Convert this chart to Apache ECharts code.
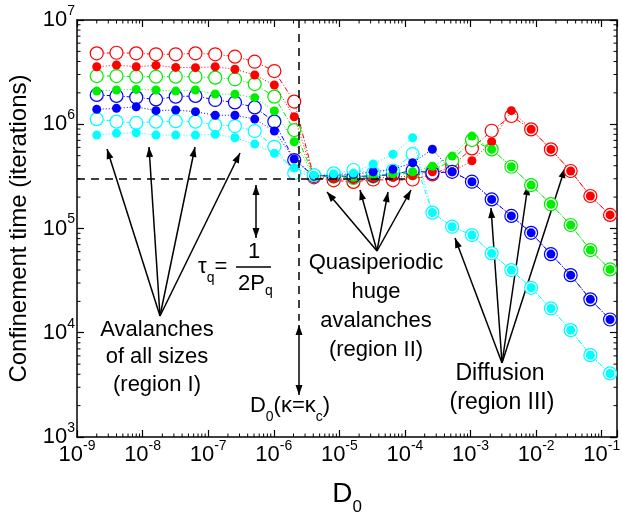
<!DOCTYPE html>
<html>
<head>
<meta charset="utf-8">
<script src="https://cdn.jsdelivr.net/npm/echarts@6/dist/echarts.min.js"></script>
<style>
  html, body { margin: 0; padding: 0; background: #fff; }
  #chart { width: 622px; height: 519px; }
</style>
</head>
<body>
<div id="chart"></div>
<script>
const FONT = '"Liberation Sans", Arial, sans-serif';

// D0 values (x), same for every curve
const d0 = [2.0e-9, 4.0e-9, 8.0e-9, 1.6e-8, 3.2e-8, 6.4e-8, 1.28e-7, 2.56e-7, 5.12e-7,
  1.02e-6, 2.05e-6, 4.10e-6, 8.19e-6, 1.64e-5, 3.28e-5, 6.55e-5, 1.31e-4, 2.62e-4,
  5.24e-4, 1.05e-3, 2.10e-3, 4.19e-3, 8.39e-3, 1.68e-2, 3.36e-2, 6.71e-2, 1.34e-1];

// confinement time (iterations)
const redOpen = [4.79e6, 4.85e6, 4.79e6, 4.69e6, 4.69e6, 4.79e6, 4.69e6, 4.45e6, 3.98e6, 3.24e6, 1.65e6,
  3.10e5, 2.90e5, 2.80e5, 2.95e5, 2.90e5, 2.95e5, 3.30e5, 3.97e5, 5.87e5, 8.66e5, 1.20e6,
  8.93e5, 5.74e5, 3.56e5, 2.05e5, 1.35e5];
const redFilled = [3.56e6, 3.70e6, 3.56e6, 3.67e6, 3.51e6, 3.49e6, 3.56e6, 3.37e6, 2.97e6, 2.38e6, 1.18e6,
  3.15e5, 3.00e5, 2.95e5, 3.05e5, 3.10e5, 3.20e5, 3.50e5, 3.50e5, 4.46e5, 6.79e5, 1.35e6,
  8.93e5, 5.74e5, 3.56e5, 2.05e5, 1.35e5];
const greenOpen = [2.90e6, 2.90e6, 2.86e6, 2.86e6, 2.86e6, 2.86e6, 2.80e6, 2.70e6, 2.43e6, 1.84e6, 8.79e5,
  3.20e5, 3.15e5, 3.05e5, 3.15e5, 3.30e5, 3.40e5, 3.60e5, 4.50e5, 7.05e5, 5.74e5, 3.91e5,
  2.61e5, 1.71e5, 1.08e5, 6.21e4, 4.05e4];
const greenFilled = [2.08e6, 2.13e6, 2.16e6, 2.13e6, 2.08e6, 2.13e6, 1.95e6, 1.94e6, 1.80e6, 1.34e6, 6.79e5,
  3.20e5, 3.20e5, 3.10e5, 3.25e5, 3.35e5, 3.50e5, 3.95e5, 4.95e5, 7.70e5, 5.74e5, 3.91e5,
  2.61e5, 1.71e5, 1.08e5, 6.21e4, 4.05e4];
const blueOpen = [1.91e6, 1.87e6, 1.81e6, 1.73e6, 1.84e6, 1.87e6, 1.71e6, 1.62e6, 1.45e6, 1.06e6, 4.53e5,
  3.20e5, 3.20e5, 3.15e5, 3.20e5, 3.30e5, 3.60e5, 3.40e5, 3.50e5, 2.81e5, 1.90e5, 1.32e5,
  9.09e4, 5.68e4, 3.57e4, 2.09e4, 1.34e4];
const blueFilled = [1.39e6, 1.42e6, 1.47e6, 1.35e6, 1.37e6, 1.32e6, 1.22e6, 1.22e6, 1.12e6, 8.61e5, 4.64e5,
  3.20e5, 3.25e5, 3.30e5, 3.50e5, 3.70e5, 4.27e5, 5.75e5, 3.50e5, 2.81e5, 1.90e5, 1.32e5,
  9.09e4, 5.68e4, 3.57e4, 2.09e4, 1.34e4];
const cyanOpen = [1.12e6, 1.06e6, 1.03e6, 1.06e6, 1.07e6, 1.06e6, 9.82e5, 9.61e5, 8.61e5, 6.08e5, 3.40e5,
  3.25e5, 3.38e5, 3.64e5, 3.40e5, 3.60e5, 5.18e5, 1.42e5, 1.04e5, 8.65e4, 5.77e4, 3.99e4,
  2.70e4, 1.71e4, 1.06e4, 6.10e3, 4.07e3];
const cyanFilled = [7.87e5, 8.18e5, 8.29e5, 7.87e5, 7.87e5, 7.87e5, 8.00e5, 7.42e5, 6.45e5, 5.26e5, 3.80e5,
  3.25e5, 3.35e5, 3.40e5, 4.16e5, 5.15e5, 7.43e5, 1.42e5, 1.04e5, 8.65e4, 5.77e4, 3.99e4,
  2.70e4, 1.71e4, 1.06e4, 6.10e3, 4.07e3];

// guide lines
const tauQ = 3.03e5;
const d0Critical = 2.43e-6;

// axis ranges and labelled decades
const X_MIN = 1e-9, X_MAX = 0.171;
const Y_MIN = 1e3, Y_MAX = 1e7;
const xExponents = [-9, -8, -7, -6, -5, -4, -3, -2, -1];
const yExponents = [3, 4, 5, 6, 7];

// log minor ticks at 2..9 x 10^n
function minorTicks(lo, hi) {
  const out = [];
  for (let e = Math.floor(Math.log10(lo)); e <= Math.ceil(Math.log10(hi)); e++) {
    for (let m = 2; m <= 9; m++) {
      const v = m * Math.pow(10, e);
      if (v > lo && v < hi) out.push(v);
    }
  }
  return out;
}
const xMinor = minorTicks(X_MIN, X_MAX);
const yMinor = minorTicks(Y_MIN, Y_MAX);

function powLabel(exps) {
  return function (v) {
    const e = Math.log10(v), r = Math.round(e);
    if (Math.abs(e - r) > 1e-6 || exps.indexOf(r) < 0) return '';
    return '{b|10}{s|' + r + '}';
  };
}
const powRich = {
  b: { fontSize: 22, fontFamily: FONT, color: '#000' },
  s: { fontSize: 14, fontFamily: FONT, color: '#000', verticalAlign: 'top', padding: [0, 0, 18, 0] }
};

function curve(name, ys, color, open) {
  return {
    name: name,
    type: 'line',
    xAxisIndex: 0, yAxisIndex: 0,
    data: d0.map((x, i) => [x, ys[i]]),
    symbol: 'circle',
    symbolSize: open ? 13 : 9,
    z: open ? 3 : 4,
    silent: true,
    lineStyle: { color: color, width: 1, type: open ? [5, 2, 1, 2] : [1, 2] },
    itemStyle: open ? { color: '#fff', borderColor: color, borderWidth: 1.2 } : { color: color },
    emphasis: { disabled: true }
  };
}

function arrow(x1, y1, x2, y2, both) {
  const head = (hx, hy, fx, fy) => {
    const dx = hx - fx, dy = hy - fy, len = Math.sqrt(dx * dx + dy * dy);
    const ux = dx / len, uy = dy / len, L = 10, W = 3.5;
    const bx = hx - ux * L, by = hy - uy * L;
    return { type: 'polygon', silent: true, shape: { points: [[hx, hy], [bx - uy * W, by + ux * W], [bx + uy * W, by - ux * W]] }, style: { fill: '#000' } };
  };
  const els = [{ type: 'line', silent: true, shape: { x1: x1, y1: y1, x2: x2, y2: y2 }, style: { stroke: '#000', lineWidth: 1.5 } }];
  els.push(head(x2, y2, x1, y1));
  if (both) els.push(head(x1, y1, x2, y2));
  return els;
}

function text(str, x, y, size, align, rich) {
  return {
    type: 'text', x: x, y: y, silent: true,
    style: { text: str, fontSize: size || 22, fontFamily: FONT, fill: '#000', align: align || 'center', verticalAlign: 'middle', rich: rich }
  };
}
const subRich = (p) => ({
  n: { fontSize: 22, fontFamily: FONT, color: '#000' },
  sub: { fontSize: 14, fontFamily: FONT, color: '#000', verticalAlign: 'bottom', padding: [p, 0, 0, 0] }
});

const graphics = [].concat(
  // region I
  arrow(160, 316, 107, 149), arrow(160, 316, 149, 147), arrow(160, 316, 195, 147), arrow(160, 316, 240, 153),
  [text('Avalanches', 157, 330), text('of all sizes', 157, 357), text('(region I)', 157, 385)],
  // tau_q
  arrow(256, 185, 256, 238, true),
  [text('{n|τ}{sub|q}{n|=}', 198, 267, 22, 'left', subRich(22)),
   text('1', 254, 252),
   { type: 'line', silent: true, shape: { x1: 236, y1: 267, x2: 271, y2: 267 }, style: { stroke: '#000', lineWidth: 1.5 } },
   text('{n|2P}{sub|q}', 238, 284, 22, 'left', subRich(14))],
  // region II
  arrow(377, 251, 327, 192), arrow(377, 251, 360, 190), arrow(377, 251, 388, 192), arrow(377, 251, 411, 190),
  [text('Quasiperiodic', 376, 263), text('huge', 376, 292), text('avalanches', 376, 321), text('(region II)', 376, 350)],
  // D0 critical
  arrow(299, 325, 299, 395, true),
  [text('{n|D}{sub|0}{n|(κ=κ}{sub|c}{n|)}', 290, 406, 22, 'center', subRich(22))],
  // region III
  arrow(502, 363, 455, 238), arrow(502, 363, 491, 208), arrow(502, 363, 528, 185), arrow(502, 363, 565, 168),
  [text('Diffusion', 500, 374, 23), text('(region III)', 502, 403, 23)]
);

const chart = echarts.init(document.getElementById('chart'), null, { renderer: 'canvas' });

const axisLine = { show: true, onZero: false, lineStyle: { color: '#000', width: 1.5 } };
const axisTick = { show: true, inside: true, length: 7, lineStyle: { color: '#000', width: 1.2 } };

const option = {
  animation: false,
  backgroundColor: '#fff',
  grid: { left: 77, right: 5, top: 20, bottom: 82, containLabel: false, outerBoundsMode: 'none' },
  xAxis: [{
    type: 'log', logBase: 10, min: X_MIN, max: X_MAX, position: 'bottom',
    axisLine: axisLine, axisTick: axisTick, splitLine: { show: false },
    axisLabel: { formatter: powLabel(xExponents), margin: 2, rich: powRich, showMinLabel: true, showMaxLabel: true },
    name: '{a|D}{b|0}', nameLocation: 'middle', nameGap: 36,
    nameTextStyle: { rich: {
      a: { fontSize: 28, fontFamily: FONT, color: '#000' },
      b: { fontSize: 17, fontFamily: FONT, color: '#000', verticalAlign: 'bottom', padding: [26, 0, 0, 0] }
    } }
  }, {
    type: 'log', logBase: 10, min: X_MIN, max: X_MAX, position: 'top',
    axisLine: axisLine, axisTick: axisTick, axisLabel: { show: false }, splitLine: { show: false }
  }],
  yAxis: [{
    type: 'log', logBase: 10, min: Y_MIN, max: Y_MAX, position: 'left',
    axisLine: axisLine, axisTick: axisTick, splitLine: { show: false },
    axisLabel: { formatter: powLabel(yExponents), margin: 2, rich: powRich },
    name: 'Confinement time (iterations)', nameLocation: 'middle', nameGap: 42, nameRotate: 90,
    nameTextStyle: { fontSize: 24, fontFamily: FONT, color: '#000' }
  }, {
    type: 'log', logBase: 10, min: Y_MIN, max: Y_MAX, position: 'right',
    axisLine: axisLine, axisTick: axisTick, axisLabel: { show: false }, splitLine: { show: false }
  }],
  series: [
    // minor ticks on all four sides
    {
      type: 'custom', coordinateSystem: 'cartesian2d', silent: true, clip: false, z: 1,
      data: xMinor.map(v => [v, Y_MIN]),
      renderItem: function (params, api) {
        const v = api.value(0);
        const b = api.coord([v, Y_MIN]), t = api.coord([v, Y_MAX]);
        const st = { stroke: '#000', lineWidth: 1 };
        return { type: 'group', children: [
          { type: 'line', shape: { x1: b[0], y1: b[1], x2: b[0], y2: b[1] - 3.5 }, style: st },
          { type: 'line', shape: { x1: t[0], y1: t[1], x2: t[0], y2: t[1] + 3.5 }, style: st }
        ] };
      }
    },
    {
      type: 'custom', coordinateSystem: 'cartesian2d', silent: true, clip: false, z: 1,
      data: yMinor.map(v => [X_MIN, v]),
      renderItem: function (params, api) {
        const v = api.value(1);
        const l = api.coord([X_MIN, v]), r = api.coord([X_MAX, v]);
        const st = { stroke: '#000', lineWidth: 1 };
        return { type: 'group', children: [
          { type: 'line', shape: { x1: l[0], y1: l[1], x2: l[0] + 3.5, y2: l[1] }, style: st },
          { type: 'line', shape: { x1: r[0], y1: r[1], x2: r[0] - 3.5, y2: r[1] }, style: st }
        ] };
      }
    },
    {
      type: 'scatter', data: [], silent: true, z: 2,
      markLine: {
        silent: true, symbol: ['none', 'none'], label: { show: false },
        lineStyle: { color: '#000', width: 1.5, type: [8, 6] },
        data: [
          [{ coord: [X_MIN, tauQ] }, { coord: [1.0e-4, tauQ] }],
          [{ coord: [d0Critical, Y_MAX] }, { coord: [d0Critical, 1.3e4] }]
        ]
      }
    },
    curve('red open', redOpen, '#ff0000', true),
    curve('red filled', redFilled, '#ff0000', false),
    curve('green open', greenOpen, '#00ee00', true),
    curve('green filled', greenFilled, '#00ee00', false),
    curve('blue open', blueOpen, '#0000ff', true),
    curve('blue filled', blueFilled, '#0000ff', false),
    curve('cyan open', cyanOpen, '#00ffff', true),
    curve('cyan filled', cyanFilled, '#00ffff', false)
  ],
  graphic: graphics
};

chart.setOption(option);
</script>
</body>
</html>
